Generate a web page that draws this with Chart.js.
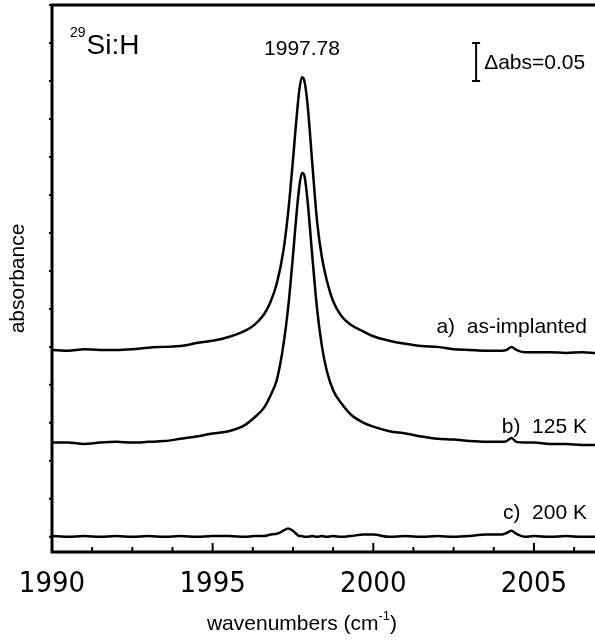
<!DOCTYPE html>
<html lang="en">
<head>
<meta charset="UTF-8">
<title>29Si:H absorbance</title>
<script src="https://cdn.jsdelivr.net/npm/chart.js"></script>
<style>
    html, body { margin: 0; padding: 0; background: #fff; overflow: hidden; }
    #wrap { width: 595px; height: 641px; }
</style>
</head>
<body>
<div id="wrap"><canvas id="spectrum" width="595" height="641"></canvas></div>
<script>
// --- data (wavenumbers in cm-1, absorbance offsets as drawn) ---
const wavenumbers = [
    1990.0, 1990.5, 1991.0, 1991.5, 1992.0, 1992.5, 1993.0, 1993.5, 1994.0, 1994.5,
    1995.0, 1995.5, 1996.0, 1996.3, 1996.6, 1996.8, 1997.0, 1997.2, 1997.35, 1997.5,
    1997.6, 1997.7, 1997.78, 1997.85, 1997.95, 1998.1, 1998.25, 1998.4, 1998.55, 1998.75,
    1999.0, 1999.3, 1999.7, 2000.0, 2000.5, 2001.0, 2001.5, 2002.0, 2002.5, 2003.0,
    2003.5, 2004.0, 2004.15, 2004.3, 2004.45, 2004.7, 2005.0, 2005.5, 2006.0, 2006.5, 2006.9
];
const asImplanted = [
    0.246, 0.245, 0.247, 0.246, 0.246, 0.247, 0.249, 0.250, 0.251, 0.255,
    0.258, 0.263, 0.271, 0.279, 0.293, 0.309, 0.334, 0.376, 0.427, 0.496,
    0.546, 0.589, 0.605, 0.601, 0.571, 0.492, 0.415, 0.368, 0.338, 0.310,
    0.291, 0.279, 0.270, 0.264, 0.258, 0.254, 0.251, 0.250, 0.247, 0.246,
    0.245, 0.245, 0.246, 0.250, 0.246, 0.243, 0.243, 0.243, 0.242, 0.243, 0.242
];
const annealed125K = [
    0.124, 0.124, 0.122, 0.124, 0.125, 0.124, 0.125, 0.126, 0.129, 0.132,
    0.136, 0.139, 0.147, 0.157, 0.170, 0.186, 0.207, 0.252, 0.302, 0.370,
    0.420, 0.462, 0.479, 0.476, 0.444, 0.370, 0.300, 0.251, 0.219, 0.193,
    0.176, 0.161, 0.150, 0.145, 0.139, 0.136, 0.132, 0.129, 0.128, 0.126,
    0.125, 0.125, 0.126, 0.130, 0.125, 0.124, 0.124, 0.122, 0.122, 0.121, 0.121
];
const annealed200K = [
    0.001, 0.000, 0.001, 0.000, 0.001, 0.000, 0.001, 0.000, 0.001, 0.000,
    0.001, 0.001, 0.000, 0.001, 0.001, 0.003, 0.004, 0.008, 0.011, 0.008,
    0.004, 0.001, 0.001, 0.000, 0.000, 0.001, 0.000, 0.001, 0.000, 0.001,
    0.000, 0.001, 0.003, 0.003, 0.000, 0.001, 0.000, 0.001, 0.000, 0.001,
    0.003, 0.003, 0.005, 0.008, 0.004, 0.000, 0.001, 0.000, 0.001, 0.000, 0.000
];
const seriesLabels = ['a)  as-implanted', 'b)  125 K', 'c)  200 K'];

const xMajorTicks = [1990, 1995, 2000, 2005];
const xMinorTicks = [1991.25, 1992.5, 1993.75, 1996.25, 1997.5, 1998.75, 2001.25, 2002.5, 2003.75, 2006.25];
const yTicks = [0, 0.05, 0.10, 0.15, 0.20, 0.25, 0.30, 0.35, 0.40, 0.45, 0.50, 0.55, 0.60, 0.65, 0.70];

// scale bar: delta abs = 0.05
const scaleBarX = [2003.2, 2003.2];
const scaleBarY = [0.60, 0.65];

const FONT = '"Liberation Sans", Arial, Helvetica, sans-serif';
const NARROW = '"Liberation Sans Narrow", "Arial Narrow", "DejaVu Sans Condensed", sans-serif';

function points(ys) {
    return wavenumbers.map((w, i) => ({ x: w, y: ys[i] }));
}

// frame, ticks, tick labels and text labels
const decorations = {
    id: 'decorations',
    afterDraw(chart) {
        const ctx = chart.ctx;
        const { left, right, top, bottom } = chart.chartArea;
        const sx = chart.scales.x, sy = chart.scales.y;
        ctx.save();
        ctx.strokeStyle = '#000';
        ctx.fillStyle = '#000';

        // frame (right edge is cut off in the figure)
        ctx.lineWidth = 3;
        ctx.beginPath();
        ctx.moveTo(right + 5, top);
        ctx.lineTo(left, top);
        ctx.lineTo(left, bottom);
        ctx.lineTo(right + 5, bottom);
        ctx.stroke();

        ctx.lineWidth = 2;
        ctx.beginPath();
        xMajorTicks.forEach(v => {
            const px = sx.getPixelForValue(v);
            ctx.moveTo(px, bottom); ctx.lineTo(px, bottom - 9);
        });
        xMinorTicks.forEach(v => {
            const px = sx.getPixelForValue(v);
            ctx.moveTo(px, bottom); ctx.lineTo(px, bottom - 5);
        });
        yTicks.forEach(v => {
            const py = sy.getPixelForValue(v);
            ctx.moveTo(left, py); ctx.lineTo(left - 3, py);
        });
        ctx.stroke();

        // x tick labels
        ctx.font = '29px ' + NARROW;
        ctx.textAlign = 'center';
        ctx.textBaseline = 'alphabetic';
        xMajorTicks.forEach(v => {
            ctx.fillText(String(v), sx.getPixelForValue(v), bottom + 40);
        });

        // 29Si:H
        ctx.textAlign = 'left';
        let px = sx.getPixelForValue(1990.56);
        let py = sy.getPixelForValue(0.636);
        ctx.font = '14px ' + FONT;
        ctx.fillText('29', px, py - 17);
        px += ctx.measureText('29').width + 1;
        ctx.font = '28px ' + FONT;
        ctx.fillText('Si:H', px, py);

        // peak position
        ctx.font = '21px ' + FONT;
        ctx.textAlign = 'center';
        ctx.fillText('1997.78', sx.getPixelForValue(1997.78), sy.getPixelForValue(0.634));

        // scale bar label
        ctx.textAlign = 'left';
        ctx.textBaseline = 'middle';
        ctx.fillText('\u0394abs=0.05', sx.getPixelForValue(2003.45), sy.getPixelForValue(0.624));

        // series labels
        ctx.font = '21px ' + FONT;
        ctx.textAlign = 'right';
        ctx.textBaseline = 'alphabetic';
        const labelY = [0.268, 0.137, 0.024];
        seriesLabels.forEach((t, i) => {
            ctx.fillText(t, sx.getPixelForValue(2006.65), sy.getPixelForValue(labelY[i]));
        });

        // y title
        ctx.save();
        ctx.translate(18, (top + bottom) / 2);
        ctx.rotate(-Math.PI / 2);
        ctx.textAlign = 'center';
        ctx.textBaseline = 'middle';
        ctx.font = '21px ' + FONT;
        ctx.fillText('absorbance', 0, 0);
        ctx.restore();

        // x title with superscript
        ctx.textAlign = 'left';
        ctx.textBaseline = 'alphabetic';
        const mainTxt = 'wavenumbers (cm', supTxt = '-1', endTxt = ')';
        ctx.font = '21px ' + FONT;
        const w1 = ctx.measureText(mainTxt).width, w3 = ctx.measureText(endTxt).width;
        ctx.font = '13px ' + FONT;
        const w2 = ctx.measureText(supTxt).width;
        let tx = 302 - (w1 + w2 + w3) / 2;
        const ty = 630;
        ctx.font = '21px ' + FONT;
        ctx.fillText(mainTxt, tx, ty);
        ctx.font = '13px ' + FONT;
        ctx.fillText(supTxt, tx + w1, ty - 10);
        ctx.font = '21px ' + FONT;
        ctx.fillText(endTxt, tx + w1 + w2, ty);

        ctx.restore();
    }
};

const lineStyle = {
    borderColor: '#000',
    borderWidth: 2.5,
    pointRadius: 0,
    fill: false,
    cubicInterpolationMode: 'monotone'
};

new Chart(document.getElementById('spectrum'), {
    type: 'line',
    data: {
        datasets: [
            Object.assign({ label: seriesLabels[0], data: points(asImplanted) }, lineStyle),
            Object.assign({ label: seriesLabels[1], data: points(annealed125K) }, lineStyle),
            Object.assign({ label: seriesLabels[2], data: points(annealed200K) }, lineStyle),
            {
                label: 'scale',
                data: scaleBarX.map((x, i) => ({ x: x, y: scaleBarY[i] })),
                borderColor: '#000',
                borderWidth: 2,
                pointStyle: 'line',
                pointRadius: 4,
                pointBorderWidth: 2,
                pointBorderColor: '#000'
            }
        ]
    },
    options: {
        responsive: false,
        animation: false,
        layout: { autoPadding: false, padding: { left: 52, top: 5, right: 0, bottom: 89 } },
        plugins: { legend: { display: false }, tooltip: { enabled: false } },
        scales: {
            x: {
                type: 'linear',
                min: 1990,
                max: 2006.9,
                display: false
            },
            y: {
                type: 'linear',
                min: -0.02,
                max: 0.70,
                display: false
            }
        }
    },
    plugins: [decorations]
});
</script>
</body>
</html>
